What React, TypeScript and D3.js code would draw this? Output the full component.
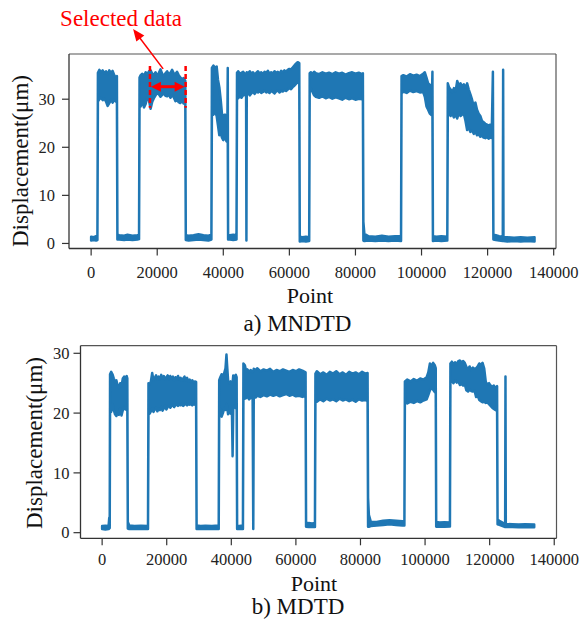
import React from "react";
import * as d3 from "d3";

// ---------- data ----------
const xTicks = [0, 20000, 40000, 60000, 80000, 100000, 120000, 140000];
const yTicks = [0, 10, 20, 30];

// [point, lower envelope, upper envelope] of the dense displacement trace
const mndtdEnvelope: [number, number, number][] = [
  [0, 0.6, 1.4], [800, 0.7, 1.3], [1500, 0.6, 1.5], [1900, 0.7, 1.6],
  [2050, 29.5, 35.5], [2500, 30, 36.1], [3000, 30.3, 35.6], [3500, 29.8, 36], [4000, 30.2, 35.4],
  [4500, 29.5, 35.8], [5000, 28.6, 35.2], [5500, 29.2, 36], [6000, 29.8, 35.5], [6500, 29.3, 35.9],
  [7000, 29.9, 35], [7500, 29.5, 34.5], [7800, 29.6, 34.8],
  [7950, 0.8, 1.9], [8500, 0.8, 1.7], [10000, 0.7, 1.6], [11000, 0.8, 1.8], [12500, 0.7, 1.6],
  [14000, 0.8, 1.7], [14500, 0.9, 1.8],
  [14650, 29.5, 34.5], [15000, 28.5, 35], [15500, 29.6, 35.3], [16000, 28.3, 34.8], [16500, 29, 35.6],
  [17000, 30.4, 35.2], [17500, 29.8, 35.8], [18000, 28, 36], [18500, 29.5, 35.3], [19000, 30.2, 35.1],
  [19500, 30.8, 35.6], [20000, 31.3, 34.9], [20500, 31, 35.5], [21000, 30.5, 36.2], [21500, 30.9, 35.3],
  [22000, 31.2, 34.8], [22500, 30.7, 35.4], [23000, 30.6, 35.8], [23500, 31, 35.2], [24000, 30.3, 35.5],
  [24500, 30.8, 36.1], [25000, 30.4, 35.4], [25500, 29.6, 35.2], [26000, 29.8, 35.7], [26500, 29.4, 35],
  [27000, 29.2, 34.5], [27500, 29.7, 34.2], [28000, 29.1, 34.4], [28500, 29.3, 33.8],
  [28650, 0.7, 1.7], [29500, 0.6, 1.6], [31000, 0.7, 1.7], [32500, 0.8, 1.9], [34000, 0.7, 1.7],
  [35500, 0.6, 1.6], [36400, 0.8, 1.8],
  [36550, 27, 36.5], [37000, 26.8, 37], [37500, 27.5, 36.6], [38000, 26.5, 36.8], [38400, 24.5, 34],
  [38800, 22.5, 32.5], [39200, 23, 30], [39600, 22, 27], [40000, 21.5, 26.5], [40500, 22, 26.8],
  [41000, 21.2, 26.4], [41250, 21.5, 26], [41350, 21.5, 36.5],
  [41450, 0.8, 1.8], [42000, 0.8, 1.7], [43000, 0.7, 1.8], [44000, 0.8, 1.7],
  [44150, 30.5, 35.5], [44500, 30.2, 35.8], [45000, 30.6, 35.3], [45500, 30.3, 35.5], [46000, 30.8, 35.7],
  [46500, 31, 35.2], [46900, 30.6, 35.4], [47000, 0.6, 35.3], [47100, 31, 35.6], [47500, 31.3, 35.4],
  [48000, 30.8, 35.8], [48500, 31.2, 35.3], [49000, 31.5, 35.6], [49500, 31.1, 35.1], [50000, 31.6, 35.5],
  [50500, 31.4, 35.8], [51000, 31.7, 35.3], [51500, 31.3, 35.6], [52000, 31.5, 35.2], [52500, 31.8, 35.7],
  [53000, 31.4, 35.4], [53500, 31.6, 35.9], [54000, 31.3, 35.3], [54500, 31.7, 35.6], [55000, 31.5, 35.4],
  [55500, 31.2, 35.8], [56000, 31.6, 35.5], [56500, 31.8, 35.7], [57000, 31.4, 35.3], [57500, 31.7, 35.9],
  [58000, 31.6, 35.6], [58500, 31.9, 36], [59000, 31.7, 35.7], [59500, 32, 36.1], [60000, 32.3, 36.3],
  [60500, 32.1, 36.2], [61000, 32.5, 36.6], [61500, 32.8, 37], [62000, 33.2, 37.4], [62500, 33.5, 37.7],
  [63000, 33.3, 37.5],
  [63150, 0.4, 1.4], [64000, 0.5, 1.3], [65000, 0.4, 1.4], [66000, 0.5, 1.3],
  [66150, 31.5, 35.4], [66500, 32.2, 35.6], [67000, 31.5, 35.3], [67500, 30.8, 35.7], [68000, 30.5, 35.4],
  [69000, 30.3, 35.2], [70000, 30.6, 35.6], [71000, 30.2, 35.3], [72000, 30.5, 35.5], [73000, 30.1, 35.2],
  [74000, 30.4, 35.6], [75000, 30.2, 35.3], [76000, 29.9, 35.5], [77000, 30.3, 35.1], [78000, 30, 35.4],
  [79000, 30.2, 35.6], [80000, 29.9, 35.3], [81000, 30.1, 35.5], [82000, 30, 35.2], [82250, 30.2, 35.4],
  [82400, 0.6, 4.5], [82700, 0.5, 2], [84000, 0.6, 1.5], [86000, 0.5, 1.4], [88000, 0.6, 1.6],
  [90000, 0.5, 1.4], [92000, 0.6, 1.5], [93800, 0.5, 1.5],
  [93950, 31.2, 34.8], [94500, 31.6, 35], [95500, 31.3, 34.7], [96500, 31.8, 35.2], [97500, 31.5, 34.9],
  [98500, 31.7, 35.1], [99500, 31.4, 34.8], [100500, 31.5, 35.3], [101000, 30.5, 35.6], [101500, 28.5, 34.5],
  [102000, 27.8, 33.3], [102500, 27, 33], [103000, 26.7, 32.5], [103200, 27, 32.5], [103300, 27, 35.7],
  [103450, 0.5, 1.5], [104500, 0.6, 1.4], [106000, 0.5, 1.5], [107800, 0.6, 1.4],
  [107950, 27, 33.3], [108300, 27.2, 32.5], [108800, 26.5, 32], [109300, 27, 31.5], [109800, 26.2, 32.3],
  [110300, 26.8, 31.6], [110800, 26, 33.8], [111300, 27.2, 32.8], [111800, 26.5, 33.3], [112300, 26.8, 32.6],
  [112800, 27, 33.1], [113300, 25.5, 32.4], [113800, 23.6, 33.3], [114300, 24, 32], [114800, 23.2, 31],
  [115300, 23.5, 29.9], [115800, 22.8, 28.5], [116300, 23.2, 29.3], [116800, 22.5, 27.8], [117300, 22.7, 27],
  [117800, 22.2, 26.5], [118300, 22.4, 25.5], [118800, 22, 25.2], [119300, 21.9, 24.9], [119800, 22.1, 24.7],
  [120300, 21.8, 24.5], [120800, 22, 24.7], [121300, 21.9, 24.8], [121600, 22, 35.7],
  [121750, 0.8, 1.8], [122500, 0.7, 1.7], [123500, 0.6, 1.5], [124600, 0.5, 1.4], [124700, 0.5, 36.1],
  [124800, 0.5, 1.3], [126000, 0.4, 1.3], [128000, 0.5, 1.2], [130000, 0.4, 1.3], [132000, 0.5, 1.2],
  [134200, 0.4, 1.3],
];

const mdtdEnvelope: [number, number, number][] = [
  [0, 0.6, 1.1], [1000, 0.55, 1.15], [2000, 0.6, 1.1], [2200, 0.7, 2.5], [2350, 0.8, 2.5],
  [2450, 20.5, 26.5], [2800, 20.2, 26.9], [3200, 21.5, 26.5], [3600, 20.5, 25.8], [4000, 19.8, 25.2],
  [4400, 19.5, 25.5], [4800, 20.2, 24.6], [5200, 19.7, 24.2], [5600, 20.8, 25], [6000, 19.6, 24.5],
  [6400, 20.5, 25.8], [6800, 21, 26.1], [7200, 20.6, 25.9], [7600, 20.9, 26.2], [7800, 21, 25.8],
  [7950, 0.7, 1.8], [8400, 0.6, 1.2], [10000, 0.6, 1.1], [12000, 0.65, 1.15], [14200, 0.6, 1.1],
  [14350, 20, 25], [14700, 19.9, 24.8], [15100, 20.3, 25.3], [15500, 20.8, 26.7], [15900, 20.2, 25.5],
  [16300, 20.6, 25.9], [16700, 20.9, 26.3], [17100, 20.3, 25.6], [17500, 20.7, 26.1], [17900, 20.5, 25.7],
  [18300, 21, 26.4], [18700, 20.4, 25.8], [19100, 20.8, 26.2], [19500, 21.2, 25.6], [19900, 20.6, 26],
  [20300, 21, 26.3], [20700, 21.3, 25.7], [21100, 20.9, 26.2], [21500, 21.2, 25.8], [21900, 21.4, 26.1],
  [22300, 21, 25.5], [22700, 21.3, 26], [23100, 21.5, 25.7], [23500, 21.2, 26.2], [23900, 21.4, 25.6],
  [24300, 21.3, 25.9], [24700, 21.5, 25.4], [25100, 21.2, 25.8], [25500, 21.4, 26.1], [25900, 21.6, 25.5],
  [26300, 21.3, 25.9], [26700, 21.5, 25.3], [27100, 21.4, 25.6], [27500, 21.6, 25.2], [27900, 21.3, 25.5],
  [28300, 21.5, 25.1], [28700, 21.4, 25.3], [29100, 21.5, 25.2],
  [29250, 0.6, 1.2], [30500, 0.6, 1.1], [32000, 0.65, 1.15], [34000, 0.6, 1.1], [36100, 0.6, 1.2],
  [36250, 21, 25.5], [36600, 20.5, 26], [37000, 19.4, 26.5], [37400, 20, 25.8], [37800, 20.8, 26.7],
  [38200, 20.5, 27.5], [38500, 21.5, 29.8], [38700, 21, 28], [39000, 19.8, 25.5], [39400, 20.3, 25],
  [39800, 19.9, 25.3], [40200, 20.1, 24.8], [40400, 12.8, 25], [40600, 20.8, 26.3], [41000, 21.2, 26.1],
  [41400, 20.8, 26.4], [41650, 21, 26],
  [41800, 0.6, 1.2], [42500, 0.6, 1.1], [43600, 0.6, 1.2],
  [43750, 22.5, 28.3], [44200, 22.4, 28], [44600, 22.5, 27], [45000, 22.8, 27.3], [45500, 22.3, 26.9],
  [46000, 22.6, 27.2], [46600, 22.4, 26.8], [46800, 0.6, 27], [46950, 22.8, 27.4], [47500, 22.6, 27.2],
  [48000, 22.9, 27.5], [49000, 22.7, 27], [50000, 23, 27.3], [51000, 22.8, 27.1], [52000, 23.1, 27.4],
  [53000, 22.9, 26.9], [54000, 23.1, 27.2], [55000, 22.8, 27], [56000, 23, 27.3], [57000, 23.2, 27.1],
  [58000, 22.9, 26.9], [59000, 23.1, 27.2], [60000, 22.8, 27], [61000, 22.9, 27.3], [62000, 22.7, 27.1],
  [63000, 22.9, 26.8],
  [63150, 1, 1.7], [64000, 0.95, 1.6], [65000, 1, 1.55], [65900, 0.95, 1.6],
  [66050, 22.3, 26.6], [66500, 21.9, 27], [67500, 22.3, 26.5], [68500, 22, 26.8], [69500, 22.4, 26.4],
  [70500, 22.1, 26.9], [71500, 22.3, 26.6], [72500, 22, 27], [73500, 22.4, 26.5], [74500, 22.1, 26.8],
  [75500, 22.3, 26.4], [76500, 22, 26.9], [77500, 22.2, 26.6], [78500, 21.9, 26.8], [79500, 22.3, 26.5],
  [80500, 22.1, 26.9], [81500, 22.2, 26.6], [82200, 22, 26.7],
  [82350, 1, 5.8], [82600, 1, 3], [83200, 1.1, 1.8], [85000, 1.2, 1.8], [87000, 1.3, 2], [89000, 1.4, 2.1],
  [91000, 1.3, 2], [93000, 1.2, 1.9], [93600, 1.2, 1.8],
  [93750, 21.9, 25.3], [94500, 21.6, 25.6], [95500, 21.9, 25.3], [96500, 21.7, 25.7], [97500, 22, 25.4],
  [98500, 21.8, 25.8], [99500, 22.1, 25.6], [100500, 22.3, 26], [101000, 23, 26.8], [101500, 23.8, 28.3],
  [102000, 24.2, 27.9], [102500, 23.9, 28.4], [103000, 23.5, 28], [103300, 23.8, 27.5],
  [103450, 1, 1.8], [104500, 1.05, 1.7], [106000, 1, 1.75], [107700, 1.05, 1.7],
  [107850, 25.2, 28.3], [108300, 25.4, 28.6], [108800, 25, 28.1], [109300, 25.5, 28.5], [109800, 25.1, 28.2],
  [110300, 25.3, 28.7], [110800, 24.7, 28.8], [111300, 24.9, 28.5], [111800, 24.6, 28.7], [112300, 24.8, 28.4],
  [112800, 23.8, 27.7], [113300, 23.6, 27.3], [113800, 23.9, 27.8], [114300, 23.7, 27.2], [114800, 23.6, 27.6],
  [115300, 23.8, 27.4], [115800, 22.7, 27.5], [116300, 22.9, 27.8], [116800, 22.2, 28.3], [117300, 22, 28.1],
  [117800, 21.8, 28.4], [118300, 21.9, 27.5], [118800, 21.7, 25.2], [119300, 21.8, 24.8], [119800, 21.5, 25],
  [120300, 21.2, 24.6], [120800, 20.9, 24.4], [121300, 20.7, 24.6], [121800, 20.5, 24.2], [122300, 20.8, 24.5],
  [122450, 1.4, 2.2], [123000, 1.3, 2], [124000, 1.1, 1.7], [124800, 0.95, 1.5], [124900, 0.95, 26.1],
  [125000, 0.95, 1.45], [127000, 0.95, 1.4], [129000, 0.9, 1.35], [131000, 0.95, 1.4], [133800, 0.9, 1.35],
];

// annotation (in data units of panel a)
const selectedRange = [17800, 28600];
const selectedSpan = [28.2, 36.9];
const selectedArrowLevel = 32.6;
const calloutTail = [21800, 36.3];
const calloutTip = [12700, 44.6];
const calloutText = "Selected data";

// ---------- layout ----------
const W = 581;
const H = 621;
const BLUE = "#1f77b4";
const RED = "#ff0000";
const textStyle: React.CSSProperties = { fontFamily: "Liberation Serif" };

type Panel = {
  data: [number, number, number][];
  left: number; right: number; top: number; bottom: number;
  yDomain: [number, number];
  yTickEnd: number; xTickBase: number;
  yLabelX: number; yLabelY: number;
  pointX: number; pointY: number;
  caption: string; capX: number; capY: number;
};

const panels: Panel[] = [
  {
    data: mndtdEnvelope, left: 69, right: 556, top: 54, bottom: 248.5,
    yDomain: [-1.05, 39.4], yTickEnd: 55, xTickBase: 278,
    yLabelX: 28, yLabelY: 161, pointX: 310, pointY: 302.5,
    caption: "a) MNDTD", capX: 297.5, capY: 331,
  },
  {
    data: mdtdEnvelope, left: 80.5, right: 556.5, top: 345.7, bottom: 538.3,
    yDomain: [-0.94, 31.27], yTickEnd: 69.5, xTickBase: 565,
    yLabelX: 42, yLabelY: 443, pointX: 314, pointY: 591,
    caption: "b) MDTD", capX: 298, capY: 613.5,
  },
];

function arrowHead(tx: number, ty: number, fx: number, fy: number, len: number, half: number) {
  const dx = tx - fx, dy = ty - fy;
  const d = Math.hypot(dx, dy) || 1;
  const ux = dx / d, uy = dy / d;
  const bx = tx - ux * len, by = ty - uy * len;
  const px = -uy, py = ux;
  return `${tx},${ty} ${bx + px * half},${by + py * half} ${bx - px * half},${by - py * half}`;
}

function PanelView({ p, annotate }: { p: Panel; annotate: boolean }) {
  const x = d3.scaleLinear().domain([-6700, 140700]).range([p.left, p.right]);
  const y = d3.scaleLinear().domain(p.yDomain).range([p.bottom, p.top]);
  const area = d3
    .area<[number, number, number]>()
    .x((d) => x(d[0]))
    .y0((d) => y(d[1]))
    .y1((d) => y(d[2]));
  const path = area(p.data) || "";

  let ann: React.ReactNode = null;
  if (annotate) {
    const x1 = x(selectedRange[0]);
    const x2 = x(selectedRange[1]);
    const yTop = y(selectedSpan[1]);
    const yBot = y(selectedSpan[0]);
    const ya = y(selectedArrowLevel);
    const tx = x(calloutTip[0]), ty = y(calloutTip[1]);
    const fx = x(calloutTail[0]), fy = y(calloutTail[1]);
    ann = (
      <g>
        <line x1={x1} x2={x1} y1={yTop} y2={yBot} stroke={RED} strokeWidth={2.5} strokeDasharray="5,3" />
        <line x1={x2} x2={x2} y1={yTop} y2={yBot} stroke={RED} strokeWidth={2.5} strokeDasharray="5,3" />
        <line x1={x1 + 8} x2={x2 - 8} y1={ya} y2={ya} stroke={RED} strokeWidth={3} />
        <polygon points={arrowHead(x1 + 1, ya, x2, ya, 10, 5)} fill={RED} />
        <polygon points={arrowHead(x2 - 1, ya, x1, ya, 10, 5)} fill={RED} />
        <line x1={fx} y1={fy} x2={tx + (fx - tx) * 0.2} y2={ty + (fy - ty) * 0.2} stroke={RED} strokeWidth={1.5} />
        <polygon points={arrowHead(tx, ty, fx, fy, 12, 5)} fill={RED} />
        <text x={tx - 12} y={26} fontSize={23} fill={RED} textAnchor="middle" style={textStyle}>
          {calloutText}
        </text>
      </g>
    );
  }

  return (
    <g>
      <path d={path} fill={BLUE} stroke={BLUE} strokeWidth={2.5} strokeLinejoin="round" />
      <line x1={p.left} x2={p.right} y1={p.top} y2={p.top} stroke="#555" strokeWidth={1.2} />
      <line x1={p.right} x2={p.right} y1={p.top} y2={p.bottom} stroke="#555" strokeWidth={1.2} />
      <line x1={p.left} x2={p.left} y1={p.top} y2={p.bottom} stroke="#333" strokeWidth={1.3} />
      <line x1={p.left} x2={p.right} y1={p.bottom} y2={p.bottom} stroke="#333" strokeWidth={1.3} />
      {yTicks.map((t) => (
        <g key={"y" + t}>
          <line x1={p.left - 7} x2={p.left} y1={y(t)} y2={y(t)} stroke="#333" strokeWidth={1.2} />
          <text x={p.yTickEnd} y={y(t)} dy="0.35em" textAnchor="end" fontSize={16.5} fill="#222" style={textStyle}>
            {t}
          </text>
        </g>
      ))}
      {xTicks.map((t) => (
        <g key={"x" + t}>
          <line x1={x(t)} x2={x(t)} y1={p.bottom} y2={p.bottom + 7} stroke="#333" strokeWidth={1.2} />
          <text x={x(t)} y={p.xTickBase} textAnchor="middle" fontSize={16.5} fill="#222" style={textStyle}>
            {t}
          </text>
        </g>
      ))}
      <text
        transform={`translate(${p.yLabelX},${p.yLabelY}) rotate(-90)`}
        textAnchor="middle"
        fontSize={23}
        fill="#111"
        style={textStyle}
      >
        Displacement(μm)
      </text>
      <text x={p.pointX} y={p.pointY} textAnchor="middle" fontSize={22} fill="#111" style={textStyle}>
        Point
      </text>
      <text x={p.capX} y={p.capY} textAnchor="middle" fontSize={23} fill="#111" style={textStyle}>
        {p.caption}
      </text>
      {ann}
    </g>
  );
}

export default function App() {
  return (
    <svg
      width={W}
      height={H}
      viewBox={`0 0 ${W} ${H}`}
      style={{ position: "absolute", left: 0, top: 0, background: "#fff" }}
    >
      <rect x={0} y={0} width={W} height={H} fill="#fff" />
      <PanelView p={panels[0]} annotate={true} />
      <PanelView p={panels[1]} annotate={false} />
    </svg>
  );
}
